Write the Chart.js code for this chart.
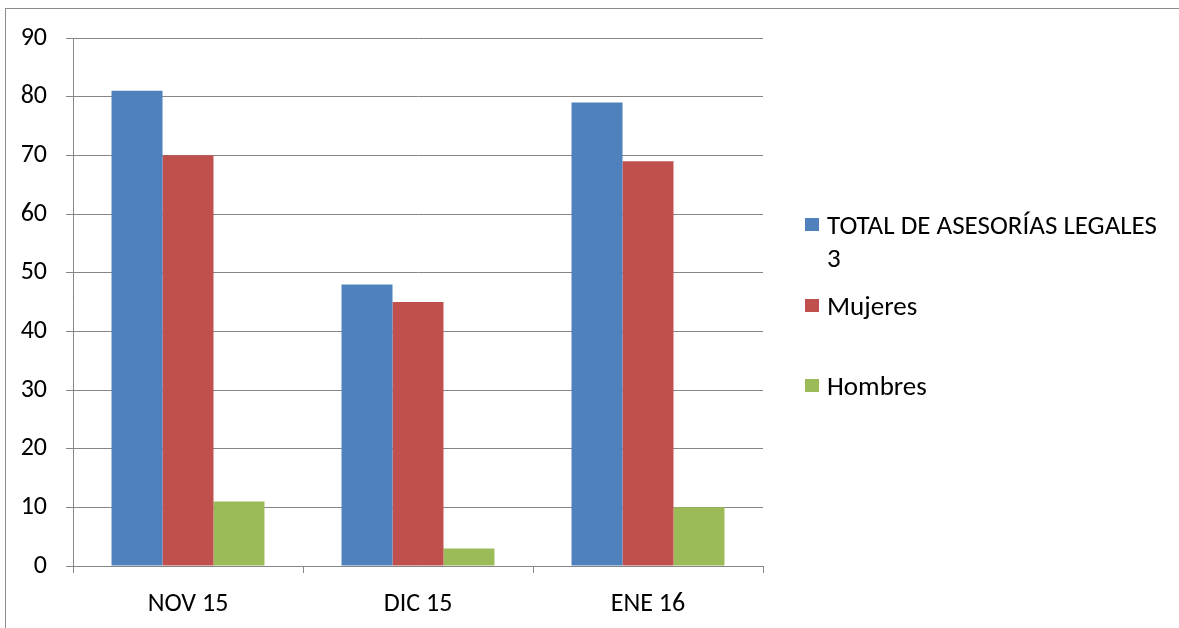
<!DOCTYPE html>
<html>
<head>
<meta charset="utf-8">
<script src="https://cdn.jsdelivr.net/npm/chart.js@4.4.1/dist/chart.umd.min.js"></script>
<style>
    body { margin: 0; background: #fff; }
    #wrap { position: relative; width: 1179px; height: 628px; overflow: hidden; }
    #frame { position: absolute; left: 5px; top: 8px; width: 1200px; height: 640px; border: 1px solid #8c8c8c; box-sizing: border-box; }
    #chart { position: absolute; left: 0; top: 0; }
    #legend { position: absolute; left: 805px; top: 0; font-family: 'Carlito', 'Open Sans', sans-serif; font-size: 27px; color: #000; }
    .item { position: absolute; left: 0; width: 370px; line-height: 33px; white-space: nowrap; }
    .box { position: absolute; left: 0; top: 10px; width: 14px; height: 13px; }
    .txt { position: absolute; left: 22px; top: 0; }
</style>
</head>
<body>
<div id="wrap">
    <div id="frame"></div>
    <canvas id="chart" width="1179" height="628"></canvas>
    <div id="legend"></div>
</div>
<script>
const categories = ['NOV 15', 'DIC 15', 'ENE 16'];
const totalAsesorias = [81, 48, 79];
const mujeres = [70, 45, 69];
const hombres = [11, 3, 10];
const yTicks = [0, 10, 20, 30, 40, 50, 60, 70, 80, 90];

const gridColor = '#868686';
const tickFont = { family: "'Carlito', 'Open Sans', sans-serif", size: 26 };

const datasets = [
    { label: ['TOTAL DE ASESORÍAS LEGALES', '3'], data: totalAsesorias, backgroundColor: '#4F81BD' },
    { label: ['Mujeres'], data: mujeres, backgroundColor: '#C0504D' },
    { label: ['Hombres'], data: hombres, backgroundColor: '#9BBB59' }
];

new Chart(document.getElementById('chart'), {
    type: 'bar',
    data: {
        labels: categories,
        datasets: datasets.map(d => ({
            label: d.label.join(' '),
            data: d.data,
            backgroundColor: d.backgroundColor,
            borderWidth: 0,
            categoryPercentage: 0.665,
            barPercentage: 1
        }))
    },
    options: {
        responsive: false,
        animation: false,
        layout: { padding: { left: 0, right: 416, top: 38, bottom: 0 } },
        plugins: {
            legend: { display: false },
            tooltip: { enabled: false }
        },
        scales: {
            x: {
                offset: true,
                grid: { display: true, drawOnChartArea: false, drawTicks: true, tickLength: 7, color: gridColor, offset: true },
                border: { display: true, color: gridColor, width: 1 },
                ticks: { color: '#000', font: tickFont, padding: 16 },
                afterFit: (axis) => { axis.height = 62; }
            },
            y: {
                min: 0,
                max: 90,
                afterBuildTicks: (axis) => { axis.ticks = yTicks.map(v => ({ value: v })); },
                grid: { color: gridColor, tickLength: 7 },
                border: { display: true, color: gridColor, width: 1 },
                ticks: { color: '#000', font: tickFont, padding: 19 },
                afterFit: (axis) => { axis.width = 73; }
            }
        }
    }
});

// legend on the right, Excel style
const legendTops = [208, 289, 369];
const legend = document.getElementById('legend');
datasets.forEach((d, i) => {
    const item = document.createElement('div');
    item.className = 'item';
    item.style.top = legendTops[i] + 'px';
    item.innerHTML = '<span class="box" style="background:' + d.backgroundColor + '"></span>' +
        '<span class="txt">' + d.label.join('<br>') + '</span>';
    legend.appendChild(item);
});
</script>
</body>
</html>
